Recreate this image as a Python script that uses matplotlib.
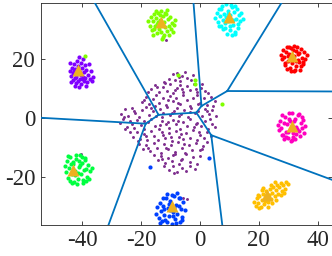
import numpy as np
import matplotlib.pyplot as plt

plt.rcParams['font.family'] = 'Liberation Serif'
plt.rcParams['axes.unicode_minus'] = False

# cluster centres (the orange triangles), also used as voronoi sites
cx = [-41.3, -13.3, 9.9, 31.4, 31.3, 22.8, -9.6, -43.2]
cy = [16.3, 32.3, 34.1, 20.8, -2.8, -25.9, -29.9, -17.5]
cols = ['#8000FF', '#80FF00', '#00FFFF', '#FF0000',
        '#FF00BF', '#FFBF00', '#0040FF', '#00FF40']

# points of each cluster
v_x = [-44.2, -43.8, -43.5, -43.2, -42.9, -42.7, -42.4, -42.2, -42.0, -41.8, -41.6, -41.4, -41.2, -41.0,
       -40.8, -40.6, -40.4, -40.2, -40.0, -39.8, -39.6, -39.4, -39.2, -39.0, -38.8, -38.5, -38.2, -37.9,
       -37.6, -37.3, -37.0, -36.6, -43.6, -42.5, -40.9, -44.0, -38.7, -41.9, -40.3, -42.6, -39.7, -36.2]
v_y = [15.8, 14.2, 17.0, 12.9, 15.1, 18.3, 13.6, 16.6, 11.8, 19.4, 14.7, 17.5, 12.5, 20.6,
       15.6, 13.2, 18.6, 11.3, 16.9, 14.0, 19.8, 12.6, 15.4, 17.8, 13.5, 16.3, 12.2, 14.6,
       18.1, 13.1, 15.7, 12.6, 12.0, 10.9, 10.6, 18.5, 10.9, 14.0, 14.4, 15.8, 13.1, 13.8]

lg_x = [-17.5, -16.9, -16.6, -16.2, -15.9, -15.5, -15.3, -15.0, -14.7, -14.4, -14.2, -13.9, -13.6, -13.3,
        -13.1, -12.8, -12.5, -12.2, -12.0, -11.7, -11.4, -11.1, -10.8, -10.5, -10.2, -9.9, -9.5, -9.2,
        -8.8, -8.4, -16.0, -14.9, -13.5, -12.4, -11.3, -10.6, -14.1, -12.9, -15.7, -11.9,
        -38.9, -7.3, -1.7, -1.5, 7.6]
lg_y = [32.6, 31.1, 34.0, 29.8, 32.9, 35.1, 30.9, 33.8, 28.6, 31.7, 35.6, 30.2, 33.1, 29.2,
        36.0, 31.6, 34.4, 28.0, 32.5, 30.6, 35.0, 29.5, 33.3, 31.2, 34.2, 30.0, 32.1, 28.9,
        31.5, 33.0, 27.9, 36.2, 34.9, 27.3, 36.5, 28.1, 32.4, 26.6, 30.0, 35.3,
        20.8, 14.6, 12.9, 11.6, 4.7]

c_x = [5.3, 5.8, 6.2, 6.6, 6.9, 7.3, 7.6, 8.0, 8.3, 8.7, 9.0, 9.4, 9.7, 10.1, 10.4, 10.8, 11.1, 11.5,
       11.8, 12.2, 12.5, 12.9, 13.3, 13.7, 14.1, 14.6, 7.9, 9.2, 10.6, 11.9, 8.5, 10.2, 12.0, 6.4,
       13.0, 9.6, 11.3, 8.8, 10.9, 7.1]
c_y = [33.8, 35.6, 32.4, 36.7, 34.3, 31.2, 37.9, 33.0, 35.1, 30.4, 38.6, 32.6, 36.2, 29.6, 34.7, 37.4, 31.5, 35.8,
       29.0, 33.6, 36.9, 31.9, 34.9, 32.8, 35.3, 33.4, 29.9, 28.5, 38.2, 28.3, 32.0, 31.0, 37.8, 30.9,
       30.3, 35.0, 33.1, 34.0, 28.0, 36.8]

r_x = [27.5, 27.9, 28.3, 28.6, 29.0, 29.3, 29.7, 30.0, 30.4, 30.7, 31.1, 31.4, 31.8, 32.1, 32.5, 32.8, 33.2, 33.5,
       33.9, 34.2, 34.6, 35.0, 35.4, 35.8, 36.3, 29.5, 31.0, 32.3, 33.7, 30.2, 31.6, 33.0, 34.4, 28.8,
       35.1, 30.9, 32.6, 31.9, 29.9, 33.4]
r_y = [21.4, 19.8, 23.0, 20.5, 17.9, 22.2, 24.1, 19.2, 21.7, 16.8, 23.5, 18.6, 20.9, 24.3, 17.4, 22.6, 19.6, 21.9,
       16.3, 23.2, 20.3, 18.1, 22.4, 20.0, 21.2, 16.6, 15.8, 16.2, 18.8, 23.9, 22.8, 24.0, 17.7, 18.5,
       19.0, 20.2, 19.3, 15.9, 20.8, 21.5]

m_x = [26.4, 26.8, 27.2, 27.6, 28.0, 28.4, 28.8, 29.2, 29.6, 30.0, 30.4, 30.8, 31.2, 31.6, 32.0, 32.4, 32.8, 33.2,
       33.6, 34.0, 34.4, 34.8, 35.2, 35.7, 27.9, 29.4, 30.9, 32.3, 33.8, 28.6, 30.1, 31.7, 33.1, 34.6,
       29.9, 32.6, 31.4, 30.6, 28.2, 35.0]
m_y = [-2.5, -4.1, -0.9, -3.3, -5.6, -1.6, 0.4, -4.6, -2.0, -6.8, -0.2, -3.7, 1.6, -5.2, -1.2, -7.1, -2.9, 0.9,
       -4.4, -6.0, -1.8, -3.5, -5.0, -2.6, 1.0, -6.3, -7.7, -0.5, 1.2, -7.2, 1.8, -6.6, -3.9, 0.2,
       -4.9, -5.5, -7.5, -1.0, -5.9, -0.6]

o_x = [18.4, 18.9, 19.3, 19.8, 20.2, 20.6, 21.0, 21.4, 21.8, 22.2, 22.6, 23.0, 23.4, 23.8, 24.2, 24.6, 25.0, 25.4,
       25.8, 26.2, 26.6, 27.0, 27.4, 27.8, 28.3, 28.8, 29.4, 29.9, 20.0, 21.5, 23.1, 24.5, 26.0, 27.5,
       22.0, 24.0, 25.6, 19.6, 28.6, 21.1]
o_y = [-28.3, -29.7, -27.1, -28.9, -26.4, -30.1, -27.7, -25.6, -29.2, -26.9, -24.8, -28.4, -26.2, -24.0, -27.3, -25.4,
       -23.2, -26.5, -24.4, -22.6, -25.7, -23.5, -21.9, -24.6, -22.8, -23.9, -21.5, -22.4, -30.3, -23.7, -30.0,
       -28.7, -27.8, -26.2, -28.0, -22.6, -21.8, -26.0, -25.5, -24.3]

b_x = [-14.8, -14.4, -14.0, -13.6, -13.2, -12.8, -12.4, -12.0, -11.6, -11.2, -10.8, -10.4, -10.0, -9.6, -9.2, -8.8,
       -8.4, -8.0, -7.6, -7.2, -6.8, -6.4, -6.0, -5.6, -5.1, -12.6, -11.0, -9.4, -7.8, -6.2, -13.4, -10.2,
       -8.6, -7.0, -11.8, -9.0, -6.6, -10.6, -8.2, -12.2, 3.2, -16.9]
b_y = [-32.4, -30.1, -33.8, -28.6, -31.5, -34.9, -29.7, -32.8, -27.0, -35.3, -30.6, -33.2, -28.1, -35.8, -31.9, -26.3,
       -34.1, -29.4, -32.5, -27.2, -35.0, -30.8, -33.5, -28.5, -31.2, -26.9, -25.8, -26.0, -25.5, -34.6, -35.6, -31.0,
       -30.3, -29.9, -34.4, -33.0, -27.0, -29.2, -35.4, -30.9, -13.7, -16.6]

g_x = [-45.9, -45.5, -45.1, -44.7, -44.3, -43.9, -43.5, -43.1, -42.7, -42.3, -41.9, -41.5, -41.1, -40.7, -40.3, -39.9,
       -39.5, -39.1, -38.7, -38.3, -37.8, -37.3, -36.7, -44.9, -43.3, -41.7, -40.1, -38.5, -42.9, -41.3, -39.7, -44.1,
       -42.1, -40.5, -38.9, -43.7, -41.0, -37.6, -42.5, -39.3]
g_y = [-16.1, -18.4, -14.5, -20.2, -17.0, -13.3, -19.1, -15.6, -21.6, -17.8, -13.9, -20.5, -16.5, -12.6, -18.9, -15.1,
       -21.9, -14.2, -17.3, -19.8, -15.8, -18.1, -16.9, -12.8, -22.0, -22.3, -13.2, -21.4, -14.8, -18.7, -20.9, -21.3,
       -12.5, -16.0, -13.6, -15.4, -14.7, -20.6, -19.4, -17.6]

# the loose cloud in the middle (noise)
n_x = [-9.1, -7.6, -5.9, -4.2, -8.3, -6.7, -3.1, -10.4, -5.1, -2.4, -12.0, -7.2,
       -16.5, -15.1, -13.8, -12.6, -11.3, -10.1, -9.0, -7.9, -6.8, -5.6, -4.5, -3.3, -2.0, -0.9, 0.4, 1.8,
       -14.4, -8.5, -1.4, 2.9, -17.6, -11.9, -6.2, 0.9,
       -19.6, -18.4, -17.2, -16.0, -14.9, -13.7, -12.5, -11.4, -10.2, -9.1, -8.0, -6.8, -5.7, -4.5, -3.4, -2.2,
       -1.1, 0.1, 1.3, 2.5, 3.7, 5.0, -15.3, -7.4, -0.5, -18.9, -10.7, 4.4,
       -26.8, -25.5, -24.3, -23.1, -21.9, -20.7, -19.5, -18.3, -17.1, -15.9, -14.8, -13.6, -12.4, -11.2, -10.0,
       -8.9, -7.7, -6.5, -5.3, -4.1, -2.9, -1.8, -0.6, 0.6, 1.8, 3.0, 4.2, 5.4, -22.5, -16.5, -9.4, -3.5, 2.4,
       -25.9, -13.0, -7.1,
       -27.2, -26.0, -24.8, -23.6, -22.4, -21.2, -20.0, -18.8, -17.6, -16.4, -15.2, -14.0, -12.8, -11.6, -10.4,
       -9.2, -8.0, -6.8, -5.6, -4.4, -3.2, -2.0, -0.8, 0.4, 1.6, 2.8, 4.0, 5.2, -25.3, -19.1, -13.4, -7.4, -1.4,
       3.4, -23.0, -10.9,
       -23.8, -22.6, -21.4, -20.2, -19.0, -17.8, -16.6, -15.4, -14.2, -13.0, -11.8, -10.6, -9.4, -8.2, -7.0,
       -5.8, -4.6, -3.4, -2.2, -1.0, 0.2, 1.4, 2.6, 3.8, -18.4, -12.4, -6.4, -0.4, -21.0, -9.9,
       -20.6, -19.3, -18.1, -16.9, -15.7, -14.5, -13.3, -12.1, -10.9, -9.7, -8.5, -7.3, -6.1, -4.9, -3.7, -2.5,
       -1.3, -0.1, 1.1, 2.3, -17.5, -11.5, -5.5, 0.6,
       -15.6, -14.3, -13.1, -11.9, -10.7, -9.5, -8.3, -7.1, -5.9, -4.7, -3.5, -2.3, -1.1, 0.2, -12.7, -6.5, -9.0,
       -12.2, -10.6, -9.1, -7.8, -6.2, -4.8, -3.3, -1.7, -8.6,
       -11.6, -5.6, -4.3, -8.2, -40.4]
n_y = [14.8, 15.2, 14.1, 13.6, 12.9, 12.4, 12.8, 13.3, 15.6, 14.5, 12.2, 13.9,
       9.8, 11.2, 8.6, 10.5, 9.1, 11.6, 8.4, 10.2, 11.1, 8.9, 10.7, 9.4, 11.3, 8.7, 10.1, 9.0,
       10.4, 9.6, 9.9, 8.3, 8.6, 11.9, 9.7, 11.6,
       5.3, 7.1, 4.6, 6.5, 7.7, 5.1, 6.8, 4.3, 7.4, 5.6, 6.9, 4.8, 7.6, 5.9, 4.2, 6.6,
       7.8, 5.0, 6.9, 4.5, 7.2, 5.6, 4.2, 5.2, 4.6, 6.1, 5.9, 4.1,
       1.2, 2.9, 0.6, 3.4, 1.8, 0.3, 2.6, 3.8, 1.1, 2.4, 0.5, 3.1, 1.7, 3.7, 0.9,
       2.2, 3.5, 1.3, 2.8, 0.4, 3.3, 1.6, 2.5, 0.8, 3.1, 1.4, 2.7, 0.7, 2.3, 3.2, 1.5, 1.9, 2.2,
       0.2, 0.2, 0.5,
       -1.8, -0.5, -2.9, -1.2, -3.5, -0.8, -2.4, -3.8, -1.5, -0.3, -2.7, -3.9, -1.1, -2.2, -3.4,
       -0.6, -2.0, -3.6, -1.3, -2.8, -0.4, -3.2, -1.7, -2.6, -0.9, -3.7, -1.9, -3.0, -3.6, -0.9, -2.5, -1.1, -2.1,
       -0.5, -2.1, -1.5,
       -4.6, -6.3, -4.9, -7.1, -5.5, -7.6, -4.3, -6.0, -7.4, -4.8, -6.7, -5.2, -7.8, -4.5, -6.4,
       -7.2, -5.0, -6.9, -4.2, -7.5, -5.6, -6.8, -4.7, -6.1, -6.2, -5.8, -5.4, -4.9, -7.9, -6.3,
       -8.7, -10.4, -9.1, -11.2, -8.5, -10.0, -11.7, -8.9, -10.6, -9.3, -11.4, -8.2, -10.1, -11.8, -9.0, -10.8,
       -8.6, -11.0, -9.5, -8.3, -10.0, -10.2, -8.9, -10.5,
       -12.6, -14.2, -12.9, -15.1, -13.4, -14.7, -12.3, -15.6, -13.8, -12.1, -14.9, -13.1, -15.4, -12.7, -14.0, -14.3, -12.5,
       -16.4, -17.5, -16.2, -18.3, -16.9, -17.8, -16.3, -17.1, -18.6,
       26.5, -27.0, -27.3, -35.8, -12.1]

clusters = [(v_x, v_y), (lg_x, lg_y), (c_x, c_y), (r_x, r_y),
            (m_x, m_y), (o_x, o_y), (b_x, b_y), (g_x, g_y)]


def voronoi_edges(sx, sy, big=500.0):
    # each pair of sites gives a bisector, cut where a third site is nearer
    P = np.column_stack([sx, sy])
    segs = []
    for i in range(len(P)):
        for j in range(i + 1, len(P)):
            m = (P[i] + P[j]) / 2
            d = P[j] - P[i]
            u = np.array([-d[1], d[0]]) / np.hypot(d[0], d[1])
            lo, hi = -big, big
            ok = True
            for k in range(len(P)):
                if k == i or k == j:
                    continue
                a = 2 * (P[k] - P[i])
                b = P[k] @ P[k] - P[i] @ P[i]
                au = a @ u
                r = b - a @ m
                if abs(au) < 1e-12:
                    if r < 0:
                        ok = False
                elif au > 0:
                    hi = min(hi, r / au)
                else:
                    lo = max(lo, r / au)
            if ok and lo < hi:
                segs.append((m + lo * u, m + hi * u))
    return segs


fig = plt.figure(figsize=(3.32, 2.56), dpi=100)
ax = fig.add_axes([0.1226, 0.122, 0.876, 0.867])

ax.scatter(n_x, n_y, s=4.5, c='#7E2F8E', linewidths=0, zorder=2)
for (px, py), col in zip(clusters, cols):
    ax.scatter(px, py, s=9, c=col, linewidths=0, zorder=2)

for p0, p1 in voronoi_edges(cx, cy):
    ax.plot([p0[0], p1[0]], [p0[1], p1[1]], color='#0072BD', lw=1.3, zorder=3)

ax.plot(cx, cy, '^', ms=8.7, color='#EDB120', mec='none', zorder=4)

ax.set_xlim(-54, 44.7)
ax.set_ylim(-36.1, 38.9)
ax.set_xticks([-40, -20, 0, 20, 40])
ax.set_yticks([-20, 0, 20])
ax.tick_params(direction='in', top=True, right=True, length=3, width=0.6,
               color='#262626', labelcolor='#262626', labelsize=16.5, pad=4)
for s in ax.spines.values():
    s.set_linewidth(0.6)
    s.set_color('#262626')

fig.savefig('out.png', dpi=100)
